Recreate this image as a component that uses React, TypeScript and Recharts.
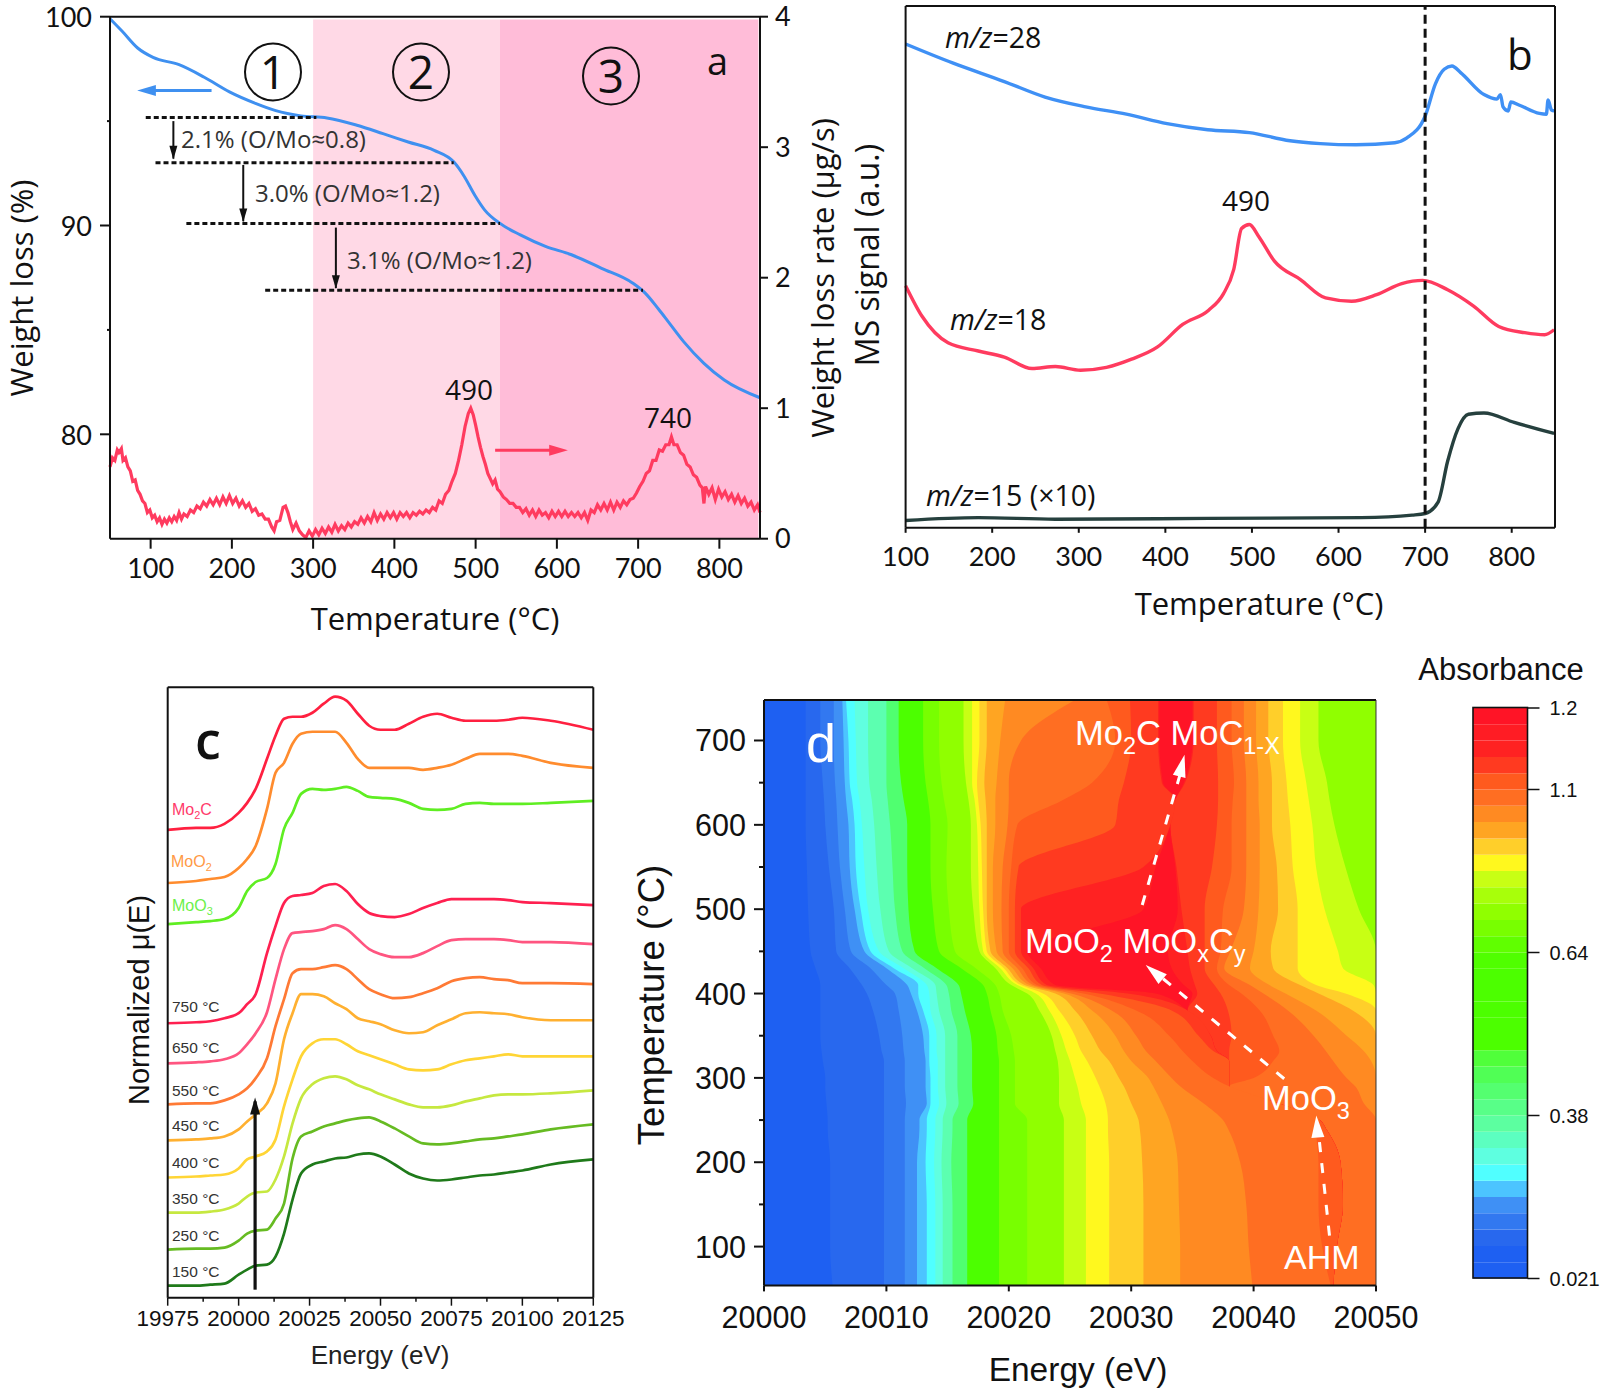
import {
  Area,
  Bar,
  BarChart,
  ComposedChart,
  Line,
  ReferenceArea,
  ReferenceDot,
  ReferenceLine,
  XAxis,
  YAxis,
} from "recharts";

type Pt = [number, number];

const OPEN = "'Open Sans', sans-serif";
const LATO = "Lato, sans-serif";
const ARIAL = "'Liberation Sans', Arial, sans-serif";
const INK = "#111";

// ---- panel a: TGA
const weightLoss: Pt[] = [
  [50, 99.9], [65, 99.3], [84, 98.5], [103, 98.05], [135, 97.7], [166, 97.1], [197, 96.4], [229, 95.85],
  [254, 95.5], [285, 95.25], [317, 95.15], [354, 94.8], [386, 94.4], [417, 94], [449, 93.6], [473, 93.05],
  [486, 92.35], [499, 91.45], [511, 90.75], [530, 90.1], [555, 89.55], [586, 89], [618, 88.6], [655, 87.95],
  [693, 87.25], [709, 86.75], [725, 86], [737, 85.4], [756, 84.44], [781, 83.4], [806, 82.6], [850, 81.75],
];
const weightRate: Pt[] = [
  [50,.55],[53,.62],[56,.6],[59,.68],[61,.66],[64,.69],[66,.6],[69,.62],[72,.55],[75,.52],[78,.44],[81,.45],[84,.37],[87,.34],[90,.29],[93,.27],[96,.2],[99,.22],
  [102,.16],[105,.18],[108,.13],[111,.16],[114,.11],[117,.15],[120,.12],[123,.16],[126,.13],[129,.17],[132,.14],[135,.2],[138,.15],[141,.19],[145,.17],[149,.22],
  [153,.2],[157,.25],[161,.23],[165,.28],[169,.25],[173,.3],[177,.26],[181,.31],[185,.26],[189,.32],[193,.27],[197,.33],[201,.27],[205,.31],[209,.25],[213,.29],
  [217,.24],[221,.27],[225,.21],[229,.23],[233,.18],[237,.19],[241,.15],[245,.15],[249,.09],[252,.06],[255,.13],[259,.14],[263,.24],[266,.25],[269,.2],[272,.13],
  [275,.07],[279,.12],[283,.06],[287,.03],[291,.01],[295,.06],[299,.02],[303,.07],[307,.03],[311,.08],[315,.04],[319,.09],[323,.05],[327,.11],[331,.06],[335,.1],
  [339,.07],[343,.12],[347,.09],[351,.13],[355,.11],[359,.16],[363,.12],[367,.17],[371,.13],[375,.2],[379,.14],[383,.19],[387,.15],[391,.2],[395,.16],[399,.2],
  [403,.15],[407,.2],[411,.17],[415,.2],[419,.16],[423,.2],[427,.18],[431,.21],[435,.19],[439,.22],[443,.2],[447,.24],[451,.22],[455,.29],[459,.27],[463,.34],
  [467,.37],[471,.44],[475,.5],[479,.6],[483,.72],[487,.86],[491,.96],[494,1.0],[497,.95],[500,.87],[503,.78],[506,.7],[509,.63],[512,.57],[515,.5],[518,.46],
  [521,.42],[524,.45],[527,.38],[530,.36],[534,.32],[538,.3],[542,.27],[546,.27],[550,.24],[554,.24],[558,.2],[562,.23],[566,.18],[570,.22],[574,.17],[578,.22],
  [582,.18],[586,.2],[590,.16],[594,.21],[598,.17],[602,.21],[606,.17],[610,.21],[614,.17],[618,.2],[622,.17],[626,.2],[630,.16],[634,.2],[638,.14],[642,.22],
  [646,.2],[650,.26],[654,.22],[658,.27],[662,.22],[666,.28],[670,.22],[674,.28],[678,.24],[682,.29],[686,.26],[690,.3],[694,.31],[698,.35],[702,.4],[706,.44],
  [710,.5],[714,.52],[718,.6],[722,.6],[726,.68],[730,.67],[734,.72],[738,.72],[741,.78],[744,.72],[748,.72],[752,.66],[756,.64],[760,.57],[764,.55],[768,.49],
  [772,.47],[776,.41],[779,.39],[781,.27],[783,.4],[787,.34],[791,.39],[795,.3],[799,.38],[803,.32],[807,.36],[811,.3],[815,.34],[819,.28],[823,.33],[827,.27],
  [831,.31],[835,.25],[839,.28],[843,.22],[847,.26],[850,.2],
];
const tgaTempTicks = [100, 200, 300, 400, 500, 600, 700, 800];
const weightTicks = [80, 85, 90, 95, 100];
const rateTicks = [0, 1, 2, 3, 4];
// [T start, T end, weight %]
const stepLines = [
  [94, 304, 95.17],
  [106, 473, 93],
  [144, 530, 90.1],
  [241, 706, 86.9],
];
// [T, weight from, weight to]
const stepArrows = [
  [128, 95, 93.2],
  [214, 92.9, 90.2],
  [328, 89.9, 87],
];

// ---- panel b: MS
const ms28: Pt[] = [
  [100,1185],[155,1138],[214,1093],[261,1055],[308,1031],[355,1013],[402,990],[449,975],[497,968],[544,948],[579,941],[620,938],
  [665,943],[679,955],[700,1008],[712,1088],[722,1123],[731,1131],[741,1115],[768,1061],[783,1050],[787,1061],[790,1031],[796,1021],
  [799,1043],[809,1035],[832,1015],[840,1013],[842,1048],[846,1023],[849,1021],
];
const ms18: Pt[] = [
  [100,593],[119,518],[149,453],[184,433],[214,418],[246,390],[273,395],[302,386],[332,393],[361,413],[391,443],[420,498],[450,533],
  [467,573],[479,633],[488,733],[497,743],[508,713],[526,653],[556,608],[585,563],[615,555],[644,571],[673,598],[697,606],[726,583],
  [756,543],[785,493],[815,478],[838,473],[849,485],
];
const ms15: Pt[] = [
  [100,18],[184,25],[273,21],[450,23],[626,25],[685,31],[700,35],[715,63],[726,163],[738,243],[750,278],[768,281],[803,258],[849,231],
];
const msTempTicks = [100, 200, 300, 400, 500, 600, 700, 800];

// ---- panel c: XANES
const xanesEnergy = [
  19975, 19985, 19990, 19995, 20000, 20003, 20006, 20010, 20013, 20016, 20019, 20022, 20026, 20030, 20034, 20038,
  20042, 20046, 20050, 20055, 20060, 20065, 20070, 20075, 20080, 20085, 20090, 20095, 20100, 20110, 20125,
];
const xanesMo2C = [467,469,469,473,484,494,508,538,561,578,580,580,584,593,600,596,583,571,567,567,573,580,583,579,576,576,576,577,579,576,567];
const xanesMoO2 = [414,416,418,420,429,438,451,488,524,534,553,563,565,565,565,554,538,529,529,529,529,527,529,532,538,543,543,543,541,534,529];
const xanesMoO3 = [373,375,376,378,389,406,415,419,433,468,484,503,508,507,508,510,506,500,499,498,494,488,487,488,493,494,493,493,493,494,496];
const xanes750 = [274,275,276,279,284,293,303,344,371,394,401,402,404,411,413,406,393,384,381,380,383,389,394,398,398,398,398,397,395,394,392];
const xanes650 = [234,235,236,238,244,253,264,285,318,348,364,365,366,368,372,368,358,348,343,340,340,344,351,357,358,358,358,357,355,355,353];
const xanes550 = [193,194,194,197,203,209,219,239,271,298,324,328,328,330,332,328,318,308,303,299,300,304,309,316,319,320,318,317,314,314,313];
const xanes450 = [157,158,159,161,168,176,183,194,214,258,284,303,303,301,294,288,279,276,273,267,264,265,272,278,284,285,284,283,280,277,277];
const xanes400 = [120,121,122,123,129,138,141,146,158,191,218,241,254,258,258,253,246,242,238,233,228,227,228,233,237,239,241,243,241,241,241];
const xanes350 = [85,85,86,88,94,101,105,106,118,141,174,199,213,219,221,218,212,208,203,198,193,190,190,192,196,199,202,203,203,204,207];
const xanes250 = [48,49,49,50,57,64,67,68,79,94,139,161,166,171,174,177,179,180,176,169,161,154,153,154,156,158,159,161,163,168,173];
const xanes150 = [12,12,13,14,23,28,32,33,41,64,98,124,133,136,139,140,143,144,141,133,124,119,117,118,120,122,123,125,127,133,138];
const xanesSeries: [string, number[], string][] = [
  ["Mo2C", xanesMo2C, "#ff2040"],
  ["MoO2", xanesMoO2, "#ff8c2e"],
  ["MoO3", xanesMoO3, "#5fee22"],
  ["750", xanes750, "#ff2050"],
  ["650", xanes650, "#ff5580"],
  ["550", xanes550, "#ff7a35"],
  ["450", xanes450, "#ffb030"],
  ["400", xanes400, "#ffd535"],
  ["350", xanes350, "#c6e840"],
  ["250", xanes250, "#66bb22"],
  ["150", xanes150, "#1f7a1a"],
];
const xanesTicks = [19975, 19987.5, 20000, 20012.5, 20025, 20037.5, 20050, 20062.5, 20075, 20087.5, 20100, 20112.5, 20125];
const xanesMajor = [19975, 20000, 20025, 20050, 20075, 20100, 20125];
const xanesTopTicks = [19987.5, 20012.5, 20037.5, 20062.5, 20087.5, 20112.5];

// ---- panel d: contour, left-to-right absorbance bands
const bandColors = [
  "#1e60f2", "#2868ee", "#3278f0", "#3f90f5", "#4cc4ff", "#50ffff", "#60ffe0", "#5cffb0", "#50ff70", "#4cff00", "#78ff00",
  "#90ff00", "#c8ff14", "#fff81e", "#ffcf2a", "#ffa522", "#ff8a22", "#ff6e22", "#ff5a1e", "#ff3a20", "#ff2222", "#ff1426",
  "#ff2222", "#ff3a20", "#ff5a1e", "#ff6e22", "#ff8a22", "#ffa522", "#ffcf2a", "#fff81e", "#c8ff14",
];
const contourRest = "#90ff00";
const contourTemps = [54, 100, 150, 200, 240, 250, 270, 290, 300, 320, 332, 350, 380, 400, 410, 430, 450, 500, 550, 600, 630, 650, 700, 748];
// right edge of every band, eV above 20000, one row per temperature
const contourEdges = [
  [5.6,9.8,11.5,12.5,13.3,14,14.6,15.4,16.6,19.2,21.5,24.5,26.3,28.2,31,34,39.9,46.3,46.5,46.5,46.5,46.5,46.5,46.5,46.5,50,50,50,50,50,50],
  [5.4,9.8,11.5,12.5,13.3,14,14.6,15.4,16.6,19.2,21.5,24.5,26.3,28.2,31,34,39.6,45.6,46.8,46.8,46.8,46.8,46.8,46.8,46.8,50,50,50,50,50,50],
  [5.4,9.8,11.5,12.5,13.3,14,14.6,15.4,16.6,19.2,21.5,24.5,26.3,28.2,31,33.9,39.4,45.3,47.3,47.3,47.3,47.3,47.3,47.3,47.3,50,50,50,50,50,50],
  [5.4,9.8,11.5,12.5,13.2,13.9,14.5,15.3,16.6,19.2,21.5,24.5,26.3,28.2,30.9,33.8,38.9,45.3,47.1,47.1,47.1,47.1,47.1,47.1,47.1,50,50,50,50,50,50],
  [5.2,9.8,11.5,12.7,13.3,14,14.6,15.4,16.6,19.2,21.5,24.5,26.3,28.1,30.7,33.3,37.9,45.1,45.9,45.9,45.9,45.9,45.9,45.9,45.9,50,50,50,50,50,50],
  [5.2,9.8,11.5,12.7,13.3,14,14.6,15.4,16.6,19.2,21.5,24.5,26.3,28.1,30.6,33.1,37.5,45.4,45.4,45.4,45.4,45.4,45.4,45.4,45.4,50,50,50,50,50,50],
  [5.1,9.8,11.6,13.3,13.6,14.3,14.9,15.9,17.1,19.2,20.5,24.1,25.9,27.9,30,32.5,35.9,42,42,42,42,42,42,42,42,49,50,50,50,50,50],
  [5,9.8,11.5,13.2,13.6,14.2,14.8,15.8,17,19.2,20.5,24.1,25.6,27.4,29.4,31.8,34,38,38,38,38,38,38,38,38,48.3,50,50,50,50,50],
  [5,9.8,11.5,13.2,13.6,14.2,14.8,15.8,17,19.2,20.5,24.1,25.4,27.1,29,31.4,33.3,36.7,38,38,38,38,38,38,40,47.6,50,50,50,50,50],
  [4.8,9.8,11.5,13.2,13.5,14.2,14.8,15.8,17,19.2,20.5,24,25,26.4,28.2,30,32,35,38,38,38,38,38,38,41.6,46.5,49.6,50,50,50,50],
  [4.7,9.6,11.4,13.1,13.5,14.1,14.8,15.8,17,19.1,20.4,23.8,24.7,25.9,27.5,29.4,31.2,34.2,36.7,37,37,37,37,38,42.1,45.9,49,50,50,50,50],
  [4.6,9.4,11.3,13,13.5,14.1,14.8,15.8,16.9,19,20.2,23.5,24.3,25.4,26.8,28.7,30.4,33.1,35.5,36.5,36.5,36.5,36.5,38.2,41.6,44.9,47.6,50,50,50,50],
  [4.6,8.9,11,12.5,13,13.6,14.3,15.3,16.4,18.5,19.5,22.5,23.3,24.1,25.4,26.8,28.4,30.4,33.3,34.6,34.6,34.6,34.6,37.9,40.5,42.8,45.1,48.1,50,50,50],
  [4.6,8.4,10.7,12,12.6,13.5,14.1,15.1,16.1,18.2,19.2,21.5,22.2,22.8,23.8,24.5,25.1,26.1,27.4,29.7,32,35,35.4,37.3,39,40.8,42.6,45.3,47.5,50,50],
  [4.6,8,10,11.7,12.6,13.3,14,14.9,15.9,17.9,18.9,20.2,20.7,21,21.3,21.7,22,22.3,22.7,23.1,23.8,34.3,35.2,36.8,38,39.7,41.3,43.8,45.1,49.8,50],
  [4.2,7,8.7,10,10.6,11.4,12.1,13.1,14.1,16.1,17.3,18.9,19.3,19.6,19.9,20.3,20.7,21.1,21.6,22,22.6,33.3,34.8,36,37,37.6,39.7,41.6,43.6,47.3,50],
  [3.8,5.9,7.1,8.2,8.7,9.4,10.2,11.3,12.3,14.3,15.6,17.6,17.9,18.2,18.5,19,19.5,20,20.5,21,21.5,33,34.6,36,37.3,38.1,40,41.4,43.6,46.9,50],
  [3.6,5.7,6.6,7.4,7.9,8.5,9.5,10.7,11.8,13.8,15.1,17.1,17.6,17.9,18.2,18.7,19.4,20,20.5,21,31,33.8,34.1,36,37.5,39.2,40.4,42,43.6,45.8,48.6],
  [3.5,5.3,6.2,7,7.5,8.2,9.2,10.5,11.7,13.6,14.9,16.9,17.5,17.8,18.2,18.7,19.5,20.2,20.8,31,32,33.6,33.7,36.6,38.2,39.4,40.5,41.9,43.2,45.1,47.5],
  [3.4,5,6,6.9,7.4,8,9,10.3,11.7,13.6,15,16.9,17.4,17.7,18.2,18.9,19.9,20.7,28.7,33.2,33.2,33.2,33.2,37,38.2,39.4,40.5,41.5,43,44.8,46.6],
  [3.4,4.9,5.9,6.7,7.2,7.8,8.8,10.1,11.4,13.4,14.7,16.7,17.2,17.5,18.1,18.9,20,24.5,29,33.6,33.6,33.6,33.6,37.1,38.3,39.4,40.4,41.5,42.8,44.5,46.2],
  [3.4,4.8,5.8,6.6,7,7.6,8.6,10,11.2,13.2,14.5,16.5,17,17.4,18,19,20,26.8,29.4,32.5,32.6,34.3,34.4,37.1,38.4,39.4,40.4,41.5,42.7,44.3,46],
  [3.4,4.6,5.7,6.5,6.9,7.5,8.5,10,11,13,14.3,16.3,17,17.6,18.2,19.3,21,28.7,30,32.2,32.3,35,35.1,37,38.2,39.2,40.2,41.2,42.4,43.8,45.3],
  [3.4,4.6,5.7,6.4,6.7,7.4,8.5,10,11,13,14.3,16.3,17,17.6,18.2,19.7,25.4,28,29.9,32.2,32.3,35,35.1,37,38.2,39.2,40.2,41.2,42.4,43.8,45.3],
];
const contourEnergyTicks = [20000, 20010, 20020, 20030, 20040, 20050];
const contourTempTicks = [100, 150, 200, 250, 300, 350, 400, 450, 500, 550, 600, 650, 700];
const contourTempMajor = [100, 200, 300, 400, 500, 600, 700];
// white guide arrows: [E from, T from, E to, T to]
const contourPaths = [
  [20030.9, 505, 20034, 660],
  [20042.5, 299, 20032.4, 420],
  [20046.2, 113, 20045.3, 235],
];

// colour scale, bottom band first
const scaleColors = [
  "#1e60f2", "#1e60f2", "#2868ee", "#3278f0", "#3f90f5", "#4cc4ff", "#50ffff", "#5effe0", "#5cffc0", "#5cffa0", "#58ff88", "#54ff70",
  "#50ff55", "#50ff3a", "#4cff00", "#4cff00", "#4cff00", "#4cff00", "#4cff00", "#50ff00", "#60ff00", "#78ff00", "#90ff00", "#a8ff0a",
  "#c8ff14", "#fff81e", "#ffcf2a", "#ffa522", "#ff8a22", "#ff6e22", "#ff5a1e", "#ff3a20", "#ff2222", "#ff1c24", "#ff1426",
];
const scaleTicks = [0, 10, 20, 30, 35];
const scaleLabels = ["0.021", "0.38", "0.64", "1.1", "1.2"];

const toRows = (pts: Pt[]) => pts.map(([x, y]) => ({ x, y }));

const contourRows = contourTemps.map((temp, i) => {
  const row: Record<string, number> = { temp };
  contourEdges[i].forEach((e, k) => {
    row[`e${k}`] = 20000 + e;
  });
  return row;
});
const xanesRows = xanesEnergy.map((energy, i) => {
  const row: Record<string, number> = { energy };
  xanesSeries.forEach(([name, values]) => {
    row[name] = values[i];
  });
  return row;
});
const scaleRow = [Object.fromEntries(scaleColors.map((_, i) => [`b${i}`, 1]))];

const head = (angle: number, size: number, fill: string) => (p: any) => (
  <polygon
    points={`${p.cx},${p.cy - size} ${p.cx + size * 0.5},${p.cy + size * 0.7} ${p.cx - size * 0.5},${p.cy + size * 0.7}`}
    fill={fill}
    transform={`rotate(${angle} ${p.cx} ${p.cy})`}
  />
);

// ticks with short unlabelled minors
const leftTick = (major: number[], len: number, gap: number, minorLen: number, fontSize: number, font: string) => (p: any) => {
  const v = p.payload.value;
  const isMajor = major.includes(v);
  const axisX = p.x + len + gap;
  return (
    <g>
      <line x1={axisX - (isMajor ? len : minorLen)} x2={axisX} y1={p.y} y2={p.y} stroke={INK} strokeWidth={2} />
      {isMajor && (
        <text x={p.x} y={p.y} textAnchor="end" dominantBaseline="central" fontSize={fontSize} fontFamily={font} fill={INK}>
          {v}
        </text>
      )}
    </g>
  );
};
const bottomTick = (major: number[], len: number, gap: number, minorLen: number, fontSize: number, font: string) => (p: any) => {
  const v = p.payload.value;
  const isMajor = major.includes(v);
  const axisY = p.y - len - gap;
  return (
    <g>
      <line y1={axisY} y2={axisY + (isMajor ? len : minorLen)} x1={p.x} x2={p.x} stroke={INK} strokeWidth={1.5} />
      {isMajor && (
        <text x={p.x} y={p.y} textAnchor="middle" dominantBaseline="hanging" fontSize={fontSize} fontFamily={font} fill={INK}>
          {v}
        </text>
      )}
    </g>
  );
};

const box = (left: number, top: number) => ({ position: "absolute" as const, left, top });
const axisStroke = { stroke: INK, strokeWidth: 2 };
const dash = { stroke: "#111", strokeWidth: 3, strokeDasharray: "5 3" };

function PanelA() {
  return (
    <div style={box(0, 0)}>
      <ComposedChart width={820} height={599} margin={{ top: 15.7, right: 0, bottom: 0, left: 0 }}>
        <XAxis xAxisId="t" type="number" dataKey="x" domain={[50, 850]} ticks={tgaTempTicks} interval={0} height={60.3}
          tickSize={10} tickMargin={10} axisLine={axisStroke} tickLine={axisStroke}
          tick={{ fontSize: 27, fontFamily: LATO, fill: INK }} />
        <XAxis xAxisId="top" orientation="top" type="number" domain={[50, 850]} height={1} tick={false} tickLine={false} axisLine={axisStroke} />
        <YAxis yAxisId="w" type="number" domain={[75, 100]} ticks={weightTicks} interval={0} width={110} tickSize={10} tickMargin={8}
          axisLine={axisStroke} tickLine={false} tick={leftTick([80, 90, 100], 10, 8, 3, 27, LATO)} />
        <YAxis yAxisId="r" orientation="right" type="number" domain={[0, 4]} ticks={rateTicks} interval={0} width={60} tickSize={8} tickMargin={7}
          axisLine={axisStroke} tickLine={axisStroke} tick={{ fontSize: 27, fontFamily: LATO, fill: INK }} />
        <ReferenceArea xAxisId="t" yAxisId="w" x1={300} x2={530} y1={75} y2={99.87} fill="#ffd9e6" fillOpacity={1} stroke="none" />
        <ReferenceArea xAxisId="t" yAxisId="w" x1={530} x2={848} y1={75} y2={99.87} fill="#ffbcd8" fillOpacity={1} stroke="none" />
        <Line xAxisId="t" yAxisId="r" data={toRows(weightRate)} dataKey="y" type="linear" stroke="#ff3b5f" strokeWidth={3.2} dot={false} isAnimationActive={false} />
        <Line xAxisId="t" yAxisId="w" data={toRows(weightLoss)} dataKey="y" type="monotone" stroke="#3f90f0" strokeWidth={3} dot={false} isAnimationActive={false} />
        {stepLines.map(([a, b, y]) => (
          <ReferenceLine key={a} xAxisId="t" yAxisId="w" segment={[{ x: a, y }, { x: b, y }]} {...dash} ifOverflow="visible" />
        ))}
        {stepArrows.map(([t, from, to]) => (
          <ReferenceLine key={t} xAxisId="t" yAxisId="w" segment={[{ x: t, y: from }, { x: t, y: to }]} stroke="#111" strokeWidth={2} ifOverflow="visible" />
        ))}
        {stepArrows.map(([t, , to]) => (
          <ReferenceDot key={t} xAxisId="t" yAxisId="w" x={t} y={to + 0.35} r={1} shape={head(180, 8, "#111")} ifOverflow="visible" />
        ))}
        <ReferenceLine xAxisId="t" yAxisId="w" segment={[{ x: 100, y: 96.46 }, { x: 175, y: 96.46 }]} stroke="#3f90f0" strokeWidth={3} ifOverflow="visible" />
        <ReferenceDot xAxisId="t" yAxisId="w" x={97} y={96.46} r={1} shape={head(-90, 11, "#3f90f0")} ifOverflow="visible" />
        <ReferenceLine xAxisId="t" yAxisId="r" segment={[{ x: 524, y: 0.677 }, { x: 595, y: 0.677 }]} stroke="#ff3b5f" strokeWidth={3} ifOverflow="visible" />
        <ReferenceDot xAxisId="t" yAxisId="r" x={600} y={0.677} r={1} shape={head(90, 11, "#ff3b5f")} ifOverflow="visible" />
      </ComposedChart>
    </div>
  );
}

function PanelB() {
  return (
    <div style={box(846, 0)}>
      <ComposedChart width={719} height={587.8} margin={{ top: 5, right: 0, bottom: 0, left: 0 }}>
        <XAxis xAxisId="t" type="number" dataKey="x" domain={[100, 850]} ticks={msTempTicks} interval={0} height={60} tickSize={5} tickMargin={14}
          axisLine={axisStroke} tickLine={axisStroke} tick={{ fontSize: 27, fontFamily: LATO, fill: INK }} />
        <XAxis xAxisId="top" orientation="top" type="number" domain={[100, 850]} height={1} tick={false} tickLine={false} axisLine={axisStroke} />
        <YAxis yAxisId="a" type="number" domain={[0, 1278]} width={59.6} tick={false} tickLine={false} axisLine={axisStroke} />
        <YAxis yAxisId="rr" orientation="right" type="number" domain={[0, 1278]} width={10} tick={false} tickLine={false} axisLine={axisStroke} />
        <Line xAxisId="t" yAxisId="a" data={toRows(ms28)} dataKey="y" type="monotone" stroke="#3f90f5" strokeWidth={3.4} dot={false} isAnimationActive={false} />
        <Line xAxisId="t" yAxisId="a" data={toRows(ms18)} dataKey="y" type="monotone" stroke="#ff3b5f" strokeWidth={3.4} dot={false} isAnimationActive={false} />
        <Line xAxisId="t" yAxisId="a" data={toRows(ms15)} dataKey="y" type="monotone" stroke="#26403e" strokeWidth={3.4} dot={false} isAnimationActive={false} />
        <ReferenceLine xAxisId="t" yAxisId="a" x={700} stroke="#111" strokeWidth={3} strokeDasharray="9 5" />
      </ComposedChart>
    </div>
  );
}

function PanelC() {
  return (
    <div style={box(100, 680)}>
      <ComposedChart width={533.3} height={657.7} data={xanesRows} margin={{ top: 7.3, right: 0, bottom: 0, left: 0 }}>
        <XAxis xAxisId="e" type="number" dataKey="energy" domain={[19975, 20125]} ticks={xanesTicks} interval={0} height={40} tickSize={8} tickMargin={4}
          axisLine={axisStroke} tickLine={false} tick={bottomTick(xanesMajor, 8, 4, 4, 22.5, ARIAL)} />
        <XAxis xAxisId="top" orientation="top" type="number" domain={[19975, 20125]} ticks={xanesTopTicks} interval={0} height={1} tick={false} mirror tickSize={3}
          axisLine={axisStroke} tickLine={{ stroke: INK, strokeWidth: 1.5 }} />
        <YAxis yAxisId="m" type="number" domain={[0, 609.4]} width={67.7} tick={false} tickLine={false} axisLine={axisStroke} />
        <YAxis yAxisId="rr" orientation="right" type="number" domain={[0, 609.4]} width={40} tick={false} tickLine={false} axisLine={axisStroke} />
        {xanesSeries.map(([name, , color]) => (
          <Line key={name} xAxisId="e" yAxisId="m" dataKey={name} type="monotone" stroke={color} strokeWidth={2.7} dot={false} isAnimationActive={false} />
        ))}
        <ReferenceLine xAxisId="e" yAxisId="m" segment={[{ x: 20005.8, y: 8 }, { x: 20005.8, y: 196 }]} stroke="#111" strokeWidth={3.2} ifOverflow="visible" />
        <ReferenceDot xAxisId="e" yAxisId="m" x={20005.8} y={190} r={1} shape={head(0, 10, "#111")} ifOverflow="visible" />
      </ComposedChart>
    </div>
  );
}

function PanelD() {
  const edgeKeys = bandColors.map((_, i) => i).reverse();
  return (
    <div style={box(680, 690)}>
      <ComposedChart layout="vertical" width={746} height={645.4} data={contourRows} margin={{ top: 9, right: 0, bottom: 0, left: 0 }}>
        <XAxis xAxisId="e" type="number" domain={[20000, 20050]} ticks={contourEnergyTicks} interval={0} height={50} tickSize={6} tickMargin={15}
          axisLine={axisStroke} tickLine={axisStroke} tick={{ fontSize: 30.5, fontFamily: ARIAL, fill: INK }} />
        <XAxis xAxisId="top" orientation="top" type="number" domain={[20000, 20050]} height={1} tick={false} tickLine={false} axisLine={axisStroke} />
        <YAxis yAxisId="t" type="number" dataKey="temp" reversed domain={[54, 748]} ticks={contourTempTicks} interval={0} width={84} tickSize={10} tickMargin={8}
          axisLine={axisStroke} tickLine={false} tick={leftTick(contourTempMajor, 10, 8, 5, 30.5, ARIAL)} />
        <YAxis yAxisId="rr" orientation="right" type="number" reversed domain={[54, 748]} width={50} tick={false} tickLine={false} axisLine={{ stroke: "#333", strokeWidth: 1 }} />
        <ReferenceArea xAxisId="e" yAxisId="t" x1={20000} x2={20050} y1={54} y2={748} fill={contourRest} fillOpacity={1} stroke="none" />
        {edgeKeys.map((k) => (
          <Area key={k} xAxisId="e" yAxisId="t" dataKey={`e${k}`} type="monotone" fill={bandColors[k]} fillOpacity={1} stroke="none" dot={false} activeDot={false} isAnimationActive={false} />
        ))}
        {contourPaths.map(([e1, t1, e2, t2]) => (
          <ReferenceLine key={t1} xAxisId="e" yAxisId="t" segment={[{ x: e1, y: t1 }, { x: e2, y: t2 }]} stroke="#fff" strokeWidth={3} strokeDasharray="10 11" ifOverflow="visible" />
        ))}
        <ReferenceDot xAxisId="e" yAxisId="t" x={20034.1} y={668} r={1} shape={head(14, 13, "#fff")} ifOverflow="visible" />
        <ReferenceDot xAxisId="e" yAxisId="t" x={20032} y={424} r={1} shape={head(-50, 13, "#fff")} ifOverflow="visible" />
        <ReferenceDot xAxisId="e" yAxisId="t" x={20045.2} y={240} r={1} shape={head(-4, 13, "#fff")} ifOverflow="visible" />
      </ComposedChart>
    </div>
  );
}

function ColourScale() {
  return (
    <div style={box(1473, 697.5)}>
      <BarChart width={128} height={595.5} data={scaleRow} barCategoryGap={0} margin={{ top: 10, right: 0, bottom: 15, left: 0 }}>
        <XAxis hide />
        <YAxis orientation="right" type="number" domain={[0, 35]} ticks={scaleTicks} interval={0} width={73.5} tickSize={12} tickMargin={10}
          axisLine={false} tickLine={{ stroke: INK, strokeWidth: 1.5 }} tick={{ fontSize: 20, fontFamily: ARIAL, fill: INK, textAnchor: "start" }}
          tickFormatter={(v: number) => scaleLabels[scaleTicks.indexOf(v)]} />
        {scaleColors.map((c, i) => (
          <Bar key={i} dataKey={`b${i}`} stackId="s" fill={c} isAnimationActive={false} />
        ))}
      </BarChart>
    </div>
  );
}

function Sub({ x, y, size, fill, parts, font = ARIAL }: { x: number; y: number; size: number; fill: string; parts: [string, boolean][]; font?: string }) {
  return (
    <text x={x} y={y} fontSize={size} fontFamily={font} fill={fill}>
      {parts.map(([s, sub], i) => {
        const prevSub = i > 0 && parts[i - 1][1];
        const dy = sub ? size * 0.25 : prevSub ? -size * 0.25 : 0;
        return (
          <tspan key={i} dy={dy} fontSize={sub ? size * 0.68 : size}>
            {s}
          </tspan>
        );
      })}
    </text>
  );
}

const vText = (x: number, y: number, s: string, size: number, font: string) => (
  <text x={x} y={y} transform={`rotate(-90 ${x} ${y})`} textAnchor="middle" fontSize={size} fontFamily={font} fill={INK}>
    {s}
  </text>
);
const cText = (x: number, y: number, s: string, size: number, font: string, fill = INK) => (
  <text x={x} y={y} textAnchor="middle" fontSize={size} fontFamily={font} fill={fill}>
    {s}
  </text>
);
const lText = (x: number, y: number, s: string, size: number, font: string, fill = INK) => (
  <text x={x} y={y} fontSize={size} fontFamily={font} fill={fill}>
    {s}
  </text>
);
const mz = (x: number, y: number, rest: string) => (
  <text x={x} y={y} fontSize={28.5} fontFamily={OPEN} fill={INK}>
    <tspan fontStyle="italic">m/z</tspan>
    {rest}
  </text>
);

const circled: [number, number, string][] = [
  [273, 72, "1"],
  [421, 72, "2"],
  [611, 76, "3"],
];
const tempLabels: [string, number][] = [
  ["750 °C", 1011.7],
  ["650 °C", 1052.7],
  ["550 °C", 1095.7],
  ["450 °C", 1130.7],
  ["400 °C", 1168],
  ["350 °C", 1204],
  ["250 °C", 1241],
  ["150 °C", 1276.7],
];

function Overlay() {
  return (
    <svg width={1601} height={1392} style={{ position: "absolute", left: 0, top: 0, pointerEvents: "none" }}>
      {/* a */}
      {circled.map(([x, y, s]) => (
        <g key={s}>
          <ellipse cx={x} cy={y} rx={28} ry={28.5} fill="none" stroke="#111" strokeWidth={2} />
          {cText(x, y + 17, s, 46, OPEN)}
        </g>
      ))}
      {lText(707, 75, "a", 38, OPEN)}
      {lText(181, 148, "2.1% (O/Mo≈0.8)", 24, OPEN, "#333")}
      {lText(255, 202, "3.0% (O/Mo≈1.2)", 24, OPEN, "#333")}
      {lText(347, 269, "3.1% (O/Mo≈1.2)", 24, OPEN, "#333")}
      {cText(469, 400, "490", 28, OPEN)}
      {cText(668, 428, "740", 28, OPEN)}
      {cText(435, 630, "Temperature (°C)", 31, OPEN)}
      {vText(33, 288, "Weight loss (%)", 31, OPEN)}
      {vText(834, 278, "Weight loss rate (μg/s)", 31, OPEN)}
      {/* b */}
      {vText(879, 255, "MS signal (a.u.)", 32, OPEN)}
      {mz(945, 48, "=28")}
      {mz(950, 330, "=18")}
      {mz(926, 506, "=15 (×10)")}
      {cText(1246, 211, "490", 28, OPEN)}
      {lText(1507, 70, "b", 42, OPEN)}
      {cText(1259, 615, "Temperature (°C)", 31, OPEN)}
      {/* c */}
      <text x={195} y={759} fontSize={52} fontFamily={OPEN} fontWeight={600} fill="#111">
        c
      </text>
      {vText(149, 1000, "Normalized μ(E)", 29, ARIAL)}
      {cText(380, 1364, "Energy (eV)", 26, ARIAL, "#222")}
      <Sub x={172} y={815} size={16} fill="#ff3b6b" parts={[["Mo", false], ["2", true], ["C", false]]} />
      <Sub x={171} y={867} size={16} fill="#ff9a45" parts={[["MoO", false], ["2", true]]} />
      <Sub x={172} y={911} size={16} fill="#6cf04a" parts={[["MoO", false], ["3", true]]} />
      {tempLabels.map(([s, y]) => (
        <g key={s}>{lText(172, y, s, 15.5, ARIAL, "#333")}</g>
      ))}
      {/* d */}
      {lText(806, 762, "d", 54, ARIAL, "#fff")}
      <Sub x={1075} y={745} size={34.5} fill="#fff" parts={[["Mo", false], ["2", true], ["C MoC", false], ["1-X", true]]} />
      <Sub x={1025} y={953} size={34.5} fill="#fff" parts={[["MoO", false], ["2", true], [" MoO", false], ["x", true], ["C", false], ["y", true]]} />
      <Sub x={1262} y={1110} size={34.5} fill="#fff" parts={[["MoO", false], ["3", true]]} />
      {lText(1284, 1269, "AHM", 34, ARIAL, "#fff")}
      {vText(664, 1005, "Temperature (°C)", 36.5, ARIAL)}
      {cText(1078, 1381, "Energy (eV)", 33.5, ARIAL)}
      {cText(1501, 680, "Absorbance", 31, ARIAL)}
      <rect x={1473} y={707.5} width={54.5} height={570.5} fill="none" stroke="#111" strokeWidth={1.6} />
    </svg>
  );
}

export default function App() {
  return (
    <div style={{ position: "absolute", left: 0, top: 0, width: 1601, height: 1392, background: "#fff", overflow: "hidden" }}>
      <PanelA />
      <PanelB />
      <PanelC />
      <PanelD />
      <ColourScale />
      <Overlay />
    </div>
  );
}
